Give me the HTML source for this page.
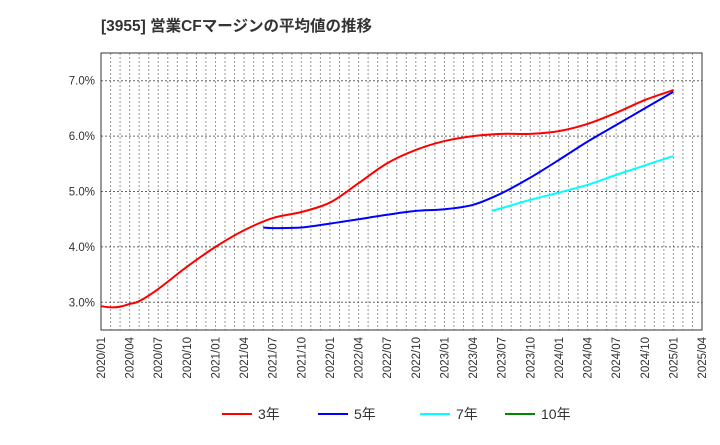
<!DOCTYPE html>
<html><head><meta charset="utf-8"><style>
body{margin:0;background:#fff;font-family:"Liberation Sans","Noto Sans CJK JP",sans-serif;}
</style></head><body>
<svg id="c" width="720" height="440" xmlns="http://www.w3.org/2000/svg" style="font-family:'Liberation Sans','Noto Sans CJK JP',sans-serif">
<text x="101" y="31" font-size="15.5" font-weight="bold" fill="#333">[3955]  営業CFマージンの平均値の推移</text>
<g id="grid"></g><g id="axes"></g><g id="series"></g><g id="legend"></g>
</svg>
<script>
const xTicks=["2020/01","2020/04","2020/07","2020/10","2021/01","2021/04","2021/07","2021/10","2022/01","2022/04","2022/07","2022/10","2023/01","2023/04","2023/07","2023/10","2024/01","2024/04","2024/07","2024/10","2025/01","2025/04"];
const yTicks=[3,4,5,6,7];
const m3=[0,1,2,3,4,6,9,12,15,18,21,24,27,30,33,36,39,42,45,48,51,54,57,60];
const v3=[2.93,2.91,2.92,2.97,3.02,3.24,3.64,4.00,4.30,4.52,4.63,4.80,5.15,5.51,5.75,5.91,6.00,6.04,6.04,6.09,6.22,6.42,6.65,6.83,6.92].slice(0,24);
const m5=[17,18,21,24,27,30,33,36,39,42,45,48,51,54,57,60];
const v5=[4.35,4.34,4.35,4.42,4.50,4.58,4.65,4.68,4.76,4.97,5.25,5.57,5.90,6.20,6.50,6.80];
const m7=[41,42,45,48,51,54,57,60];
const v7=[4.65,4.70,4.85,4.98,5.12,5.30,5.47,5.64];
const m10=[];const v10=[];
const L=101,R=702,T=53,B=330,yMin=2.5,yMax=7.5,months=63;
const X=m=>L+(R-L)*m/months, Y=v=>B-(B-T)*(v-yMin)/(yMax-yMin);
const NS="http://www.w3.org/2000/svg";
function mk(t,a,p){const e=document.createElementNS(NS,t);for(const k in a)e.setAttribute(k,a[k]);p.appendChild(e);return e;}
const g=document.getElementById('grid'),ax=document.getElementById('axes'),s=document.getElementById('series'),lg=document.getElementById('legend');
for(let m=1;m<months;m++){const l=mk('line',{x1:X(m),x2:X(m),y1:T,y2:B,stroke:'#999','stroke-dasharray':'2,2','stroke-width':1},g);

}
yTicks.forEach(v=>{const l=mk('line',{x1:L,x2:R,y1:Y(v),y2:Y(v),stroke:'#666','stroke-dasharray':'2,2','stroke-width':1},g);


const t=mk('text',{x:L-6,y:Y(v)+4,'text-anchor':'end','font-size':11.5,fill:'#333'},ax);t.textContent=v.toFixed(1)+'%';

});
const fr=mk('rect',{x:L,y:T,width:R-L,height:B-T,fill:'none',stroke:'#333','stroke-width':1},ax);


xTicks.forEach((lab,i)=>{const x=X(i*3);const t=mk('text',{x:0,y:0,'text-anchor':'end','font-size':11.5,fill:'#333',transform:`translate(${x+4},${B+7}) rotate(-90)`},ax);t.textContent=lab;

});
function path(ms,vs){const p=ms.map((m,i)=>[X(m),Y(vs[i])]);if(!p.length)return '';let d=`M${p[0][0]},${p[0][1]}`;
for(let i=0;i<p.length-1;i++){const p0=p[i-1]||p[i],p1=p[i],p2=p[i+1],p3=p[i+2]||p2;
d+=` C${p1[0]+(p2[0]-p0[0])/6},${p1[1]+(p2[1]-p0[1])/6} ${p2[0]-(p3[0]-p1[0])/6},${p2[1]-(p3[1]-p1[1])/6} ${p2[0]},${p2[1]}`;}return d;}
[[m3,v3,'#f00','series-3y'],[m5,v5,'#00f','series-5y'],[m7,v7,'#0ff','series-7y'],[m10,v10,'#080','series-10y']].forEach(([m,v,c,n])=>{
if(!m.length)return;const e=mk('path',{d:path(m,v),fill:'none',stroke:c,'stroke-width':2},s);

});
[['3年','#f00',222],['5年','#00f',318],['7年','#0ff',420],['10年','#080',505]].forEach(([lab,c,x])=>{
const l=mk('line',{x1:x,x2:x+30,y1:414,y2:414,stroke:c,'stroke-width':2},lg);


const t=mk('text',{x:x+36,y:419,'font-size':14,fill:'#333'},lg);t.textContent=lab;

});
</script>
</body></html>
